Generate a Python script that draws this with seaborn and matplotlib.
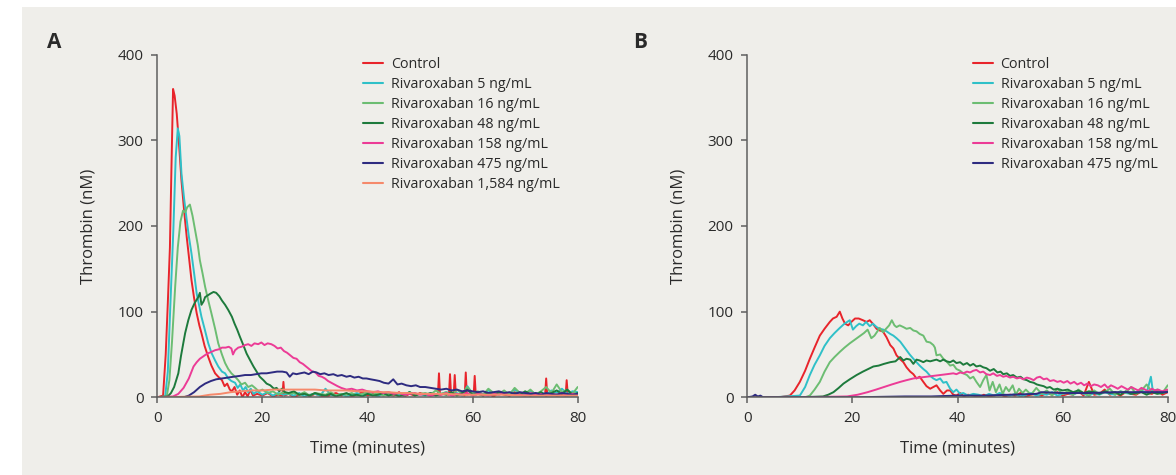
import numpy as np
import pandas as pd
import matplotlib
matplotlib.use("Agg")
import matplotlib.pyplot as plt
from matplotlib.patches import Rectangle
import seaborn as sns

# ---------------- data ----------------
SERIES_A = ["Control", "Rivaroxaban 5 ng/mL", "Rivaroxaban 16 ng/mL", "Rivaroxaban 48 ng/mL",
            "Rivaroxaban 158 ng/mL", "Rivaroxaban 475 ng/mL", "Rivaroxaban 1,584 ng/mL"]
SERIES_B = SERIES_A[:6]
COLORS = ["#e8242b", "#2fc0c8", "#6cbd72", "#1d7a3c", "#ec3b96", "#2e2b80", "#f5896b"]

X_TICKS = [0, 20, 40, 60, 80]
Y_TICKS = [0, 100, 200, 300, 400]

# Panel A
A_CTRL_T = [0, 1.1, 1.6, 2.0, 2.4, 2.7, 3.0, 3.3, 3.7, 4.2,
            4.6, 5.1, 5.6, 6.0, 6.5, 7.0, 7.5, 8.0, 8.4, 9.0,
            9.7, 10.3, 11.0, 11.6, 12.3, 12.8, 13.3, 13.8, 14.2, 14.7,
            15.2, 15.7, 16.2, 16.7, 17.2, 17.7, 18.2, 19, 20, 21,
            22, 23, 23.8, 24.0, 24.2, 25, 26, 27, 28, 29,
            30, 31, 32, 33, 34, 35, 36, 37, 38, 39,
            40, 41, 42, 43, 44, 45, 46, 47, 48, 49,
            50, 51, 52, 53, 53.4, 53.6, 53.8, 54.6, 55.5, 55.7,
            55.9, 56.4, 56.6, 56.8, 57.6, 58.5, 58.7, 58.9, 59.6, 60.2,
            60.4, 60.6, 61.4, 62, 63, 64, 65, 66, 67, 68,
            69, 70, 71, 72, 73, 73.8, 74.0, 74.2, 75, 76,
            77, 77.7, 77.9, 78.1, 79, 80]
A_CTRL_V = [0, 2, 50, 110, 175, 270, 360, 352, 331, 290,
            253, 218, 187, 165, 137, 116, 98, 84, 75, 60,
            47, 37, 28, 24, 20, 13, 16, 9, 7, 12,
            3, 8, 0, 6, 1, 9, 2, 4, 2, 5,
            1, 3, 2, 18, 2, 4, 0, 3, 5, 1,
            4, 2, 0, 3, 5, 2, 4, 1, 3, 6,
            2, 4, 1, 5, 3, 2, 6, 1, 4, 2,
            5, 3, 2, 3, 3, 28, 3, 4, 3, 27,
            3, 2, 26, 4, 3, 2, 29, 3, 4, 2,
            25, 3, 5, 2, 4, 1, 5, 3, 2, 6,
            3, 4, 2, 5, 3, 3, 22, 3, 4, 2,
            3, 2, 20, 4, 5, 3]

A_R5_T = [0, 1.5, 2.0, 2.5, 3.05, 3.5, 3.9, 4.2, 4.6, 5.1,
          5.6, 6.0, 6.5, 7.0, 7.5, 8.0, 8.4, 9.0, 9.7, 10.3,
          11.0, 11.6, 12.3, 12.9, 13.5, 14.1, 14.8, 15.3, 15.8, 16.3,
          16.8, 17.3, 17.8, 18.3, 19, 20, 21, 22, 23, 24,
          25, 26, 27, 28, 29, 30, 31, 32, 33, 34,
          35, 36, 37, 38, 39, 40, 41, 42, 43, 44,
          45, 46, 47, 48, 49, 50, 51, 52, 53, 54,
          55, 56, 57, 58, 59, 60, 61, 62, 63, 64,
          65, 66, 67, 68, 69, 70, 71, 72, 73, 74,
          75, 76, 77, 78, 79, 80]
A_R5_V = [0, 1, 30, 110, 195, 280, 314, 305, 261, 232,
          207, 188, 168, 145, 121, 106, 94, 80, 63, 52,
          43, 36, 30, 28, 22, 19, 17, 11, 15, 8,
          12, 6, 10, 4, 7, 3, 6, 2, 5, 3,
          4, 2, 5, 1, 3, 4, 2, 10, 3, 2,
          4, 1, 3, 5, 2, 4, 3, 1, 5, 2,
          4, 3, 2, 6, 3, 4, 2, 5, 3, 4,
          6, 3, 5, 2, 13, 4, 6, 3, 8, 5,
          3, 6, 4, 9, 5, 3, 7, 4, 6, 3,
          8, 5, 10, 4, 7, 6]

A_R16_T = [0, 1.8, 2.3, 2.8, 3.4, 3.9, 4.4, 4.9, 5.3, 5.7,
           6.2, 6.7, 7.2, 7.7, 8.1, 8.6, 9.1, 9.7, 10.3, 11.0,
           11.6, 12.3, 12.9, 13.5, 14.1, 14.8, 15.4, 16.0, 16.7, 17.3,
           18.0, 18.6, 19.3, 20, 21, 22, 23, 24, 25, 26,
           27, 28, 29, 30, 31, 32, 33, 34, 35, 36,
           37, 38, 39, 40, 41, 42, 43, 44, 45, 46,
           47, 48, 49, 50, 51, 52, 53, 54, 55, 56,
           57, 58, 59, 60, 61, 62, 63, 64, 65, 66,
           67, 68, 69, 70, 71, 72, 73, 74, 75, 76,
           77, 78, 79, 80]
A_R16_V = [0, 1, 20, 65, 129, 175, 205, 218, 216, 222,
           225, 212, 195, 178, 160, 145, 129, 113, 98, 80,
           63, 50, 40, 33, 28, 24, 20, 15, 17, 12,
           14, 11, 7, 9, 5, 7, 3, 6, 4, 5,
           3, 6, 2, 5, 4, 3, 6, 2, 4, 3,
           5, 2, 4, 6, 3, 5, 2, 4, 3, 5,
           2, 6, 3, 4, 5, 3, 8, 4, 6, 3,
           9, 4, 12, 5, 7, 3, 10, 5, 4, 8,
           3, 11, 5, 4, 9, 3, 7, 12, 5, 15,
           6, 9, 4, 12]

A_R48_T = [0, 2.0, 2.6, 3.2, 3.6, 4.0, 4.5, 5.0, 5.3, 5.9,
           6.5, 7.1, 7.8, 8.1, 8.4, 8.8, 9.1, 9.6, 10.1, 10.7,
           11.2, 11.8, 12.3, 12.9, 13.5, 14.2, 14.7, 15.2, 15.7, 16.3,
           17.0, 17.6, 18.3, 18.9, 19.5, 20.2, 20.8, 21.5, 22.2, 22.7,
           23.2, 23.7, 24.3, 25, 26, 27, 28, 29, 30, 31,
           32, 33, 34, 35, 36, 37, 38, 39, 40, 41,
           42, 43, 44, 45, 46, 47, 48, 49, 50, 51,
           52, 53, 54, 55, 56, 57, 58, 59, 60, 61,
           62, 63, 64, 65, 66, 67, 68, 69, 70, 71,
           72, 73, 74, 75, 76, 77, 78, 79, 80]
A_R48_V = [0, 1, 5, 12, 20, 28, 48, 65, 75, 90,
           102, 110, 117, 122, 108, 112, 117, 119, 121, 123,
           122, 118, 113, 108, 102, 94, 86, 79, 71, 62,
           51, 44, 36, 30, 24, 20, 16, 14, 10, 11,
           7, 10, 6, 5, 7, 3, 4, 2, 5, 3,
           2, 4, 1, 3, 5, 2, 3, 1, 4, 2,
           3, 5, 2, 4, 1, 3, 6, 2, 4, 3,
           5, 2, 4, 3, 6, 2, 5, 9, 3, 4,
           2, 5, 3, 6, 4, 2, 5, 3, 7, 4,
           3, 6, 2, 5, 8, 4, 9, 3, 5]

A_R158_T = [0, 3.0, 4.0, 5.0, 6.0, 6.9, 7.5, 8.1, 8.8, 9.5,
            10.3, 11.0, 11.7, 12.3, 13.0, 13.6, 14.1, 14.4, 14.8, 15.4,
            16.0, 16.7, 17.3, 17.9, 18.5, 19.2, 19.8, 20.4, 21.0, 21.7,
            22.3, 22.9, 23.5, 24.1, 24.7, 25.3, 25.9, 26.5, 27.1, 27.7,
            28.3, 28.9, 29.5, 30.1, 30.7, 31.3, 31.9, 32.5, 33.1, 33.7,
            34.3, 35, 36, 37, 38, 39, 40, 41, 42, 43,
            44, 45, 46, 47, 48, 49, 50, 51, 52, 53,
            54, 55, 56, 57, 58, 59, 60, 61, 62, 63,
            64, 65, 66, 67, 68, 69, 70, 71, 72, 73,
            74, 75, 76, 77, 78, 79, 80]
A_R158_V = [0, 1, 4, 11, 22, 36, 41, 45, 48, 51,
            53, 55, 56, 58, 58, 59, 57, 50, 55, 58,
            59, 61, 62, 60, 63, 62, 64, 61, 63, 62,
            60, 57, 58, 54, 52, 49, 46, 45, 41, 39,
            36, 33, 30, 29, 25, 24, 22, 19, 17, 15,
            13, 11, 9, 10, 8, 9, 7, 6, 7, 5,
            6, 4, 5, 3, 4, 5, 3, 4, 2, 4,
            3, 5, 2, 4, 3, 5, 2, 4, 3, 2,
            4, 3, 5, 2, 4, 3, 2, 5, 3, 4,
            2, 4, 3, 5, 2, 4, 3]

A_R475_T = [0, 5.0, 6.0, 7.0, 8.1, 9.1, 10.2, 11.2, 12.3, 13.4,
            14.5, 15.7, 16.7, 17.8, 18.8, 19.8, 20.8, 21.8, 22.8, 23.8,
            24.6, 25.2, 25.8, 26.5, 27.2, 28.0, 28.8, 29.6, 30.3, 31.0,
            31.8, 32.6, 33.5, 34.3, 35.1, 36.0, 36.7, 37.5, 38.3, 39.1,
            39.8, 40.6, 41.5, 42.3, 43.1, 44.0, 44.9, 45.7, 46.5, 47.4,
            48.3, 49.2, 50.0, 51.0, 52.0, 53.0, 54.0, 55.0, 56.0, 57.0,
            58, 59, 60, 61, 62, 63, 64, 65, 66, 67,
            68, 69, 70, 71, 72, 73, 74, 75, 76, 77,
            78, 79, 80]
A_R475_V = [0, 0, 2, 6, 12, 16, 19, 21, 22, 23,
            24, 25, 26, 26, 27, 28, 28, 29, 30, 30,
            29, 24, 28, 27, 28, 29, 27, 30, 29, 27,
            28, 26, 27, 25, 26, 24, 25, 23, 24, 22,
            22, 21, 20, 19, 17, 16, 21, 15, 16, 14,
            13, 14, 12, 12, 11, 10, 9, 10, 8, 9,
            7, 8, 7, 6, 7, 5, 6, 7, 5, 6,
            4, 6, 5, 4, 5, 3, 5, 4, 3, 5,
            4, 3, 4]

A_R1584_T = [0, 8, 10, 12, 14, 16, 18, 20, 22, 24,
             26, 28, 30, 32, 34, 36, 38, 40, 42, 44,
             46, 48, 50, 52, 55, 58, 62, 66, 70, 75, 80]
A_R1584_V = [0, 1, 3, 4, 6, 7, 8, 8, 9, 9,
             9, 9, 9, 8, 8, 8, 7, 7, 6, 6,
             5, 5, 4, 4, 4, 3, 3, 3, 2, 2, 2]

# Panel B
B_CTRL_T = [0, 1.0, 1.5, 2.0, 3, 6, 8.1, 9.0, 10.0, 11.0,
            11.9, 12.8, 13.8, 14.7, 15.7, 16.3, 17.0, 17.6, 18.1, 18.6,
            19.2, 19.8, 20.5, 21.2, 22.0, 22.7, 23.3, 24.0, 24.6, 25.2,
            25.8, 26.5, 27.2, 27.8, 28.4, 29.0, 29.7, 30.3, 31.0, 31.6,
            32.2, 32.8, 33.5, 34.1, 34.8, 35.4, 36.0, 36.7, 37.3, 38.0,
            38.6, 39.2, 39.8, 40.5, 41.2, 42, 43, 44, 45, 46,
            47, 48, 49, 50, 51, 52, 53, 54, 55, 56,
            57, 58, 59, 60, 61, 62, 63, 64, 65, 66,
            67, 68, 69, 70, 71, 72, 73, 74, 75, 76,
            77, 78, 79, 80]
B_CTRL_V = [0, 0, 1, 0, 0, 0, 2, 8, 18, 31,
            45, 58, 72, 80, 88, 92, 94, 100, 92, 86,
            84, 88, 92, 92, 90, 88, 90, 85, 80, 78,
            77, 70, 61, 57, 49, 45, 41, 35, 30, 27,
            22, 24, 18, 13, 10, 12, 14, 8, 4, 8,
            8, 3, 2, 5, 1, 3, 2, 0, 3, 1,
            2, 4, 1, 3, 2, 5, 1, 3, 4, 2,
            5, 3, 6, 2, 4, 3, 7, 2, 18, 3,
            4, 9, 3, 5, 2, 6, 4, 3, 7, 5,
            4, 8, 3, 6]

B_R5_T = [0, 2, 5, 10.0, 11.0, 11.9, 12.8, 13.8, 14.7, 15.7,
          16.6, 17.6, 18.5, 19.5, 20.1, 20.7, 21.3, 22.0, 22.6, 23.3,
          23.9, 24.6, 25.2, 25.9, 26.5, 27.2, 27.8, 28.4, 29.1, 29.7,
          30.3, 30.9, 31.6, 32.2, 32.8, 33.5, 34.1, 34.8, 35.4, 36.0,
          36.7, 37.3, 37.9, 38.6, 39.2, 39.8, 40.5, 41.1, 42, 43,
          44, 45, 46, 47, 48, 49, 50, 51, 52, 53,
          54, 55, 56, 57, 58, 59, 60, 61, 62, 63,
          64, 65, 66, 67, 68, 69, 70, 71, 72, 73,
          74, 75, 76, 76.8, 77.2, 78, 79, 80]
B_R5_V = [0, 0, 0, 2, 12, 26, 38, 49, 60, 69,
          75, 81, 86, 90, 79, 83, 86, 84, 88, 83,
          86, 82, 80, 79, 77, 74, 72, 69, 65, 60,
          55, 50, 45, 41, 37, 33, 30, 25, 22, 20,
          22, 17, 18, 10, 6, 9, 4, 5, 2, 4,
          3, 1, 4, 2, 5, 3, 2, 4, 1, 3,
          5, 2, 4, 3, 6, 2, 4, 5, 3, 6,
          4, 2, 5, 3, 6, 4, 3, 7, 5, 4,
          6, 8, 5, 24, 6, 9, 5, 7]

B_R16_T = [0, 5, 11.0, 11.9, 12.8, 13.8, 14.7, 15.7, 16.6, 17.6,
           18.5, 19.5, 20.4, 21.3, 22.2, 22.9, 23.6, 24.2, 25.2, 25.8,
           26.4, 27.0, 27.5, 28.0, 28.4, 29.0, 29.7, 30.3, 31.0, 31.6,
           32.2, 32.8, 33.5, 34.1, 34.8, 35.4, 35.7, 36.0, 36.7, 37.3,
           37.9, 38.6, 39.2, 39.8, 40.5, 41.1, 41.8, 42.4, 43.0, 43.6,
           44.3, 44.9, 45.5, 46.1, 46.7, 47.3, 48.0, 48.6, 49.2, 49.8,
           50.5, 51.1, 51.7, 52.4, 53, 54, 55, 56, 57, 58,
           59, 60, 61, 62, 63, 64, 65, 66, 67, 68,
           69, 70, 71, 72, 73, 74, 75, 76, 77, 78,
           79, 80]
B_R16_V = [0, 0, 0, 2, 9, 18, 30, 41, 47, 53,
           58, 63, 67, 71, 75, 79, 69, 72, 81, 76,
           80, 84, 90, 84, 82, 84, 82, 80, 81, 78,
           77, 74, 72, 65, 64, 61, 58, 49, 50, 45,
           42, 37, 38, 33, 31, 28, 26, 22, 24, 18,
           12, 20, 26, 8, 18, 6, 15, 4, 12, 7,
           14, 3, 10, 5, 9, 3, 11, 4, 8, 2,
           10, 4, 7, 3, 9, 5, 2, 8, 4, 6,
           10, 3, 7, 5, 12, 4, 8, 15, 6, 9,
           5, 14]

B_R48_T = [0, 10, 14.4, 15.4, 16.4, 17.4, 18.3, 19.5, 20.8, 22.0,
           23.0, 24.0, 25.0, 26.0, 27.2, 28.2, 29.1, 29.7, 30.3, 31.0,
           31.6, 32.2, 32.8, 33.5, 34.1, 34.8, 35.4, 36.0, 36.7, 37.3,
           37.9, 38.6, 39.2, 39.8, 40.5, 41.1, 41.8, 42.4, 43.0, 43.6,
           44.3, 44.9, 45.5, 46.2, 46.9, 47.6, 48.2, 48.7, 49.4, 50.0,
           50.6, 51.3, 52.0, 52.6, 53.2, 53.8, 54.5, 55.1, 55.7, 56.4,
           57.0, 57.6, 58.3, 59, 60, 61, 62, 63, 64, 65,
           66, 67, 68, 69, 70, 71, 72, 73, 74, 75,
           76, 77, 78, 79, 80]
B_R48_V = [0, 0, 1, 3, 6, 11, 16, 21, 26, 30,
           33, 36, 37, 39, 41, 42, 47, 43, 45, 44,
           39, 44, 43, 41, 43, 42, 43, 44, 42, 44,
           42, 41, 43, 40, 41, 38, 40, 37, 39, 36,
           37, 35, 34, 31, 33, 29, 30, 27, 28, 25,
           26, 23, 24, 21, 20, 18, 17, 15, 14, 13,
           11, 12, 9, 10, 8, 9, 6, 8, 5, 7,
           6, 4, 7, 5, 6, 3, 7, 4, 5, 6,
           3, 6, 4, 5, 7]

B_R158_T = [0, 10, 19.0, 21.0, 22.9, 24.5, 26.0, 27.5, 29.1, 30.3,
            31.6, 32.8, 34.1, 35.4, 36.7, 38.0, 39.2, 39.8, 40.5, 41.1,
            41.8, 42.4, 43.0, 43.6, 44.3, 44.9, 45.5, 46.2, 46.8, 47.5,
            48.1, 48.7, 49.3, 50.0, 50.6, 51.3, 51.9, 52.5, 53.2, 53.8,
            54.5, 55.1, 55.7, 56.4, 57.0, 57.6, 58.3, 59.0, 59.6, 60.2,
            60.9, 61.5, 62.2, 62.8, 63.5, 64.1, 64.7, 65.4, 66.0, 66.7,
            67.3, 68.0, 68.6, 69.2, 69.9, 70.5, 71.2, 71.8, 72.4, 73.1,
            73.7, 74.4, 75.0, 75.7, 76.3, 77.0, 77.6, 78.2, 78.9, 79.5,
            80]
B_R158_V = [0, 0, 1, 3, 6, 9, 12, 15, 18, 20,
            22, 23, 24, 25, 26, 27, 28, 27, 29, 28,
            30, 29, 31, 32, 29, 30, 27, 26, 28, 25,
            26, 24, 25, 23, 24, 22, 23, 21, 23, 22,
            20, 23, 24, 21, 22, 19, 20, 18, 19, 17,
            19, 16, 18, 15, 17, 14, 16, 13, 15, 14,
            12, 15, 11, 14, 12, 10, 13, 11, 9, 12,
            10, 8, 11, 9, 7, 10, 8, 9, 7, 8,
            9]

B_R475_T = [0, 1.0, 1.5, 2.0, 2.5, 3.0, 10, 20, 30, 35,
            40, 45, 50, 55, 56, 60, 65, 70, 75, 80]
B_R475_V = [0, 1, 3, 1, 2, 0, 0, 0, 1, 1,
            2, 2, 3, 4, 6, 5, 5, 6, 6, 6]

PANEL_A = [(A_CTRL_T, A_CTRL_V), (A_R5_T, A_R5_V), (A_R16_T, A_R16_V), (A_R48_T, A_R48_V),
           (A_R158_T, A_R158_V), (A_R475_T, A_R475_V), (A_R1584_T, A_R1584_V)]
PANEL_B = [(B_CTRL_T, B_CTRL_V), (B_R5_T, B_R5_V), (B_R16_T, B_R16_V), (B_R48_T, B_R48_V),
           (B_R158_T, B_R158_V), (B_R475_T, B_R475_V)]


def to_frame(names, pairs):
    frames = []
    for name, (t, v) in zip(names, pairs):
        assert len(t) == len(v), (name, len(t), len(v))
        frames.append(pd.DataFrame({"Time": t, "Thrombin": v, "Series": name}))
    return pd.concat(frames, ignore_index=True)


df_a = to_frame(SERIES_A, PANEL_A)
df_b = to_frame(SERIES_B, PANEL_B)

# ---------------- style ----------------
sns.set_theme(style="ticks")
plt.rcParams["font.family"] = ["Open Sans", "DejaVu Sans"]
BG = "#efeeea"
SPINE = "#5f5f5f"
TEXT = "#2a2a2a"

W, H = 1176, 475
fig = plt.figure(figsize=(W / 100, H / 100), dpi=100, facecolor="white")
fig.patches.append(Rectangle((22 / W, 0), 1, (H - 7) / H, transform=fig.transFigure,
                             facecolor=BG, edgecolor="none", zorder=-10))

ax_w = 420.4 / W
ax_h = 342.6 / H
ax_b = 77.7 / H
axA = fig.add_axes([157.3 / W, ax_b, ax_w, ax_h])
axB = fig.add_axes([747.3 / W, ax_b, ax_w, ax_h])

palette = dict(zip(SERIES_A, COLORS))

for ax, df, names, leg_x, letter, lx in [(axA, df_a, SERIES_A, 0.49, "A", 47 / W),
                                         (axB, df_b, SERIES_B, 0.536, "B", 633 / W)]:
    ax.set_facecolor("none")
    sns.lineplot(data=df, x="Time", y="Thrombin", hue="Series", hue_order=names,
                 palette=palette, estimator=None, sort=False, linewidth=1.4, ax=ax)
    ax.set_xlim(0, 80)
    ax.set_ylim(0, 400)
    ax.set_xticks(X_TICKS)
    ax.set_yticks(Y_TICKS)
    sns.despine(ax=ax)
    for s in ["left", "bottom"]:
        ax.spines[s].set_color(SPINE)
        ax.spines[s].set_linewidth(1.1)
    ax.tick_params(axis="both", direction="out", length=4, width=1.1, color=SPINE,
                   labelsize=11, labelcolor=TEXT, pad=6)
    ax.set_xlabel("Time (minutes)", fontsize=12, color=TEXT, labelpad=10)
    ax.set_ylabel("Thrombin (nM)", fontsize=12, color=TEXT, labelpad=15)
    h, l = ax.get_legend_handles_labels()
    ax.legend(h, l, loc="upper left", bbox_to_anchor=(leg_x, 0.992), frameon=False,
              fontsize=10.3, handlelength=1.4, handletextpad=0.55, labelspacing=0.34,
              borderpad=0, borderaxespad=0, labelcolor=TEXT)
    for ln in ax.get_legend().get_lines():
        ln.set_linewidth(1.5)
    fig.text(lx, 1 - 42 / H, letter, fontsize=15, fontweight="bold", color=TEXT,
             va="center", ha="left")

fig.savefig("out.png", dpi=100, facecolor="white")
